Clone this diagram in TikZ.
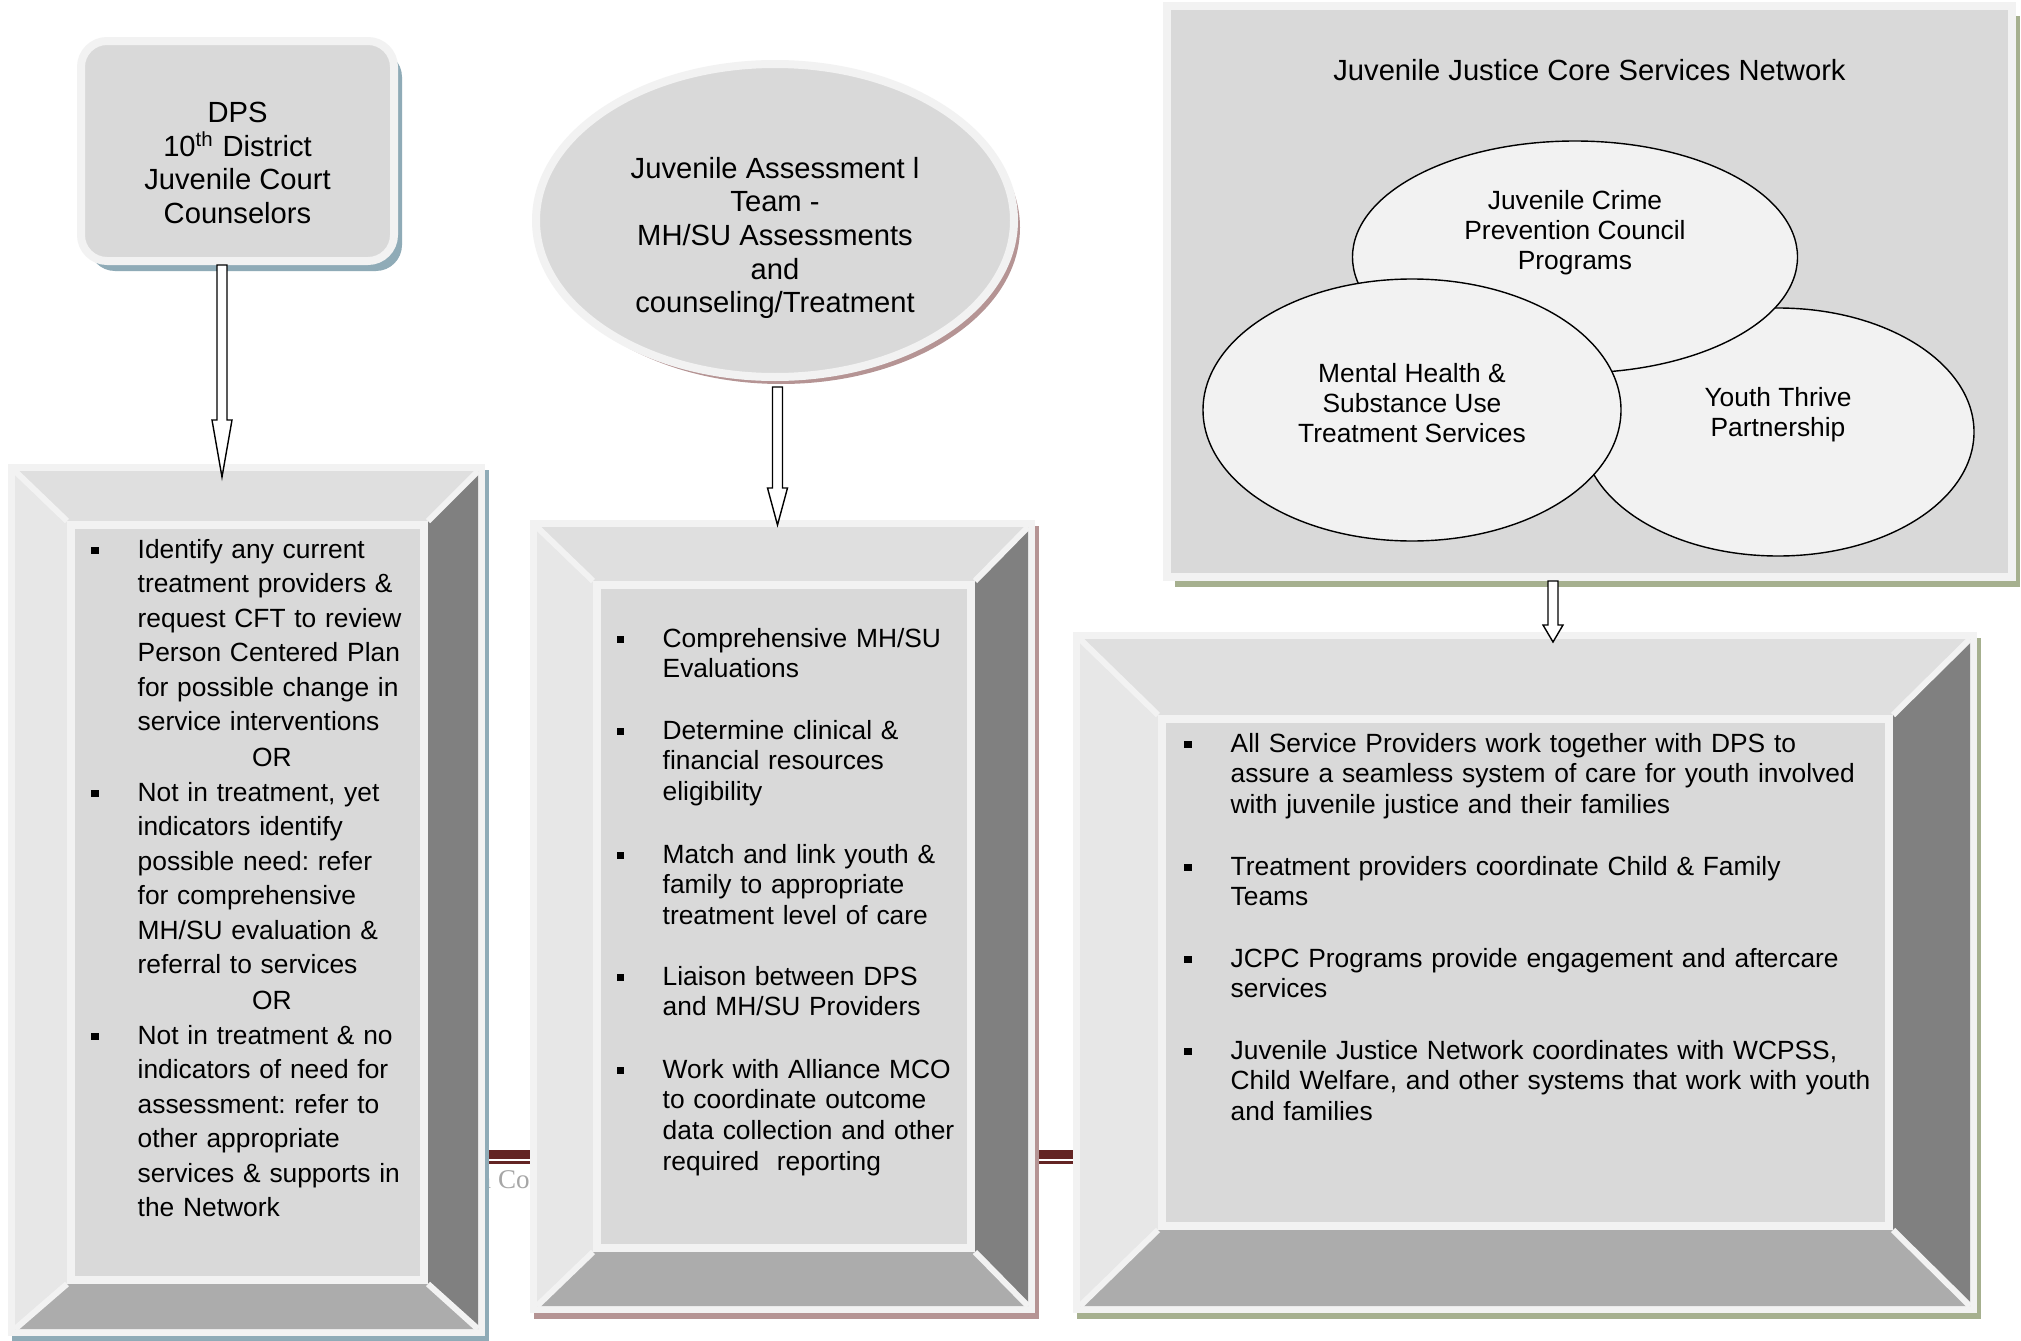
\documentclass[tikz,border=0pt]{standalone}
\usepackage{fontspec}
\setmainfont{Liberation Sans}
\newfontfamily\footserif{Liberation Serif}
\usetikzlibrary{positioning,shapes.geometric,shadows,calc}
\frenchspacing

\definecolor{rim}{HTML}{F2F2F2}
\definecolor{panel}{HTML}{D9D9D9}
\definecolor{bevtop}{HTML}{DFDFDF}
\definecolor{bevleft}{HTML}{E7E7E7}
\definecolor{bevright}{HTML}{808080}
\definecolor{bevbot}{HTML}{ACACAC}
\definecolor{shblue}{HTML}{8FABB7}
\definecolor{shrose}{HTML}{B59494}
\definecolor{sholive}{HTML}{A6B08F}
\definecolor{maroon}{HTML}{632423}
\definecolor{footgray}{HTML}{A6A6A6}

% bevelled panel: frame (#1,#2)-(#3,#4), inner panel (#5,#6)-(#7,#8), shadow colour #9
\newcommand{\bevelframe}[9]{%
  \fill[#9] (#1+4,#2+6) rectangle (#3+4,#4+6);
  \fill[rim] (#1,#2) rectangle (#3,#4);
  \fill[bevtop] (#1+7,#2+7) -- (#3-7,#2+7) -- (#7,#6) -- (#5,#6) -- cycle;
  \fill[bevleft] (#1+7,#2+7) -- (#5,#6) -- (#5,#8) -- (#1+7,#4-7) -- cycle;
  \fill[bevright] (#3-7,#2+7) -- (#3-7,#4-7) -- (#7,#8) -- (#7,#6) -- cycle;
  \fill[bevbot] (#1+7,#4-7) -- (#5,#8) -- (#7,#8) -- (#3-7,#4-7) -- cycle;
  \draw[rim, line width=0.6mm] (#1+7,#2+7) -- (#5,#6) (#3-7,#2+7) -- (#7,#6)
    (#1+7,#4-7) -- (#5,#8) (#3-7,#4-7) -- (#7,#8);
  \draw[rim, fill=panel, line width=0.8mm] (#5+4,#6+4) rectangle (#7-4,#8-4);
}

\begin{document}
\begin{tikzpicture}[
  x=0.1mm, y=-0.1mm,
  hdtext/.style={font=\fontsize{8.3}{9.55}\selectfont, align=center, inner sep=0},
  elltext/.style={font=\fontsize{7.5}{8.5}\selectfont, align=center, inner sep=0},
  rimbox/.style={fill=panel, draw=rim, line width=0.8mm, inner sep=0},
  venn/.style={ellipse, fill=rim, draw=black, line width=0.4pt, inner sep=0},
  itemtext/.style={anchor=base west, align=left, inner sep=0, font=\fontsize{7.5}{8.8}\selectfont},
  bul/.style={fill=black, inner sep=0, minimum size=0.75mm},
  shd/.style={drop shadow={shadow xshift=0.8mm, shadow yshift=-1mm, fill=#1, opacity=1}},
  blockarr/.style={draw=black, fill=white, line width=0.4pt,
    to path={let \p1=(\tikztostart), \p2=(\tikztotarget) in
      (\x1-0.5mm,\y1) -- (\x1-0.5mm,\y2+#1) -- (\x1-1mm,\y2+#1) -- (\x1,\y2)
      -- (\x1+1mm,\y2+#1) -- (\x1+0.5mm,\y2+#1) -- (\x1+0.5mm,\y1) -- cycle}}
]
\fill[white] (0,0) rectangle (2021,1341);
\useasboundingbox (0,0) rectangle (2021,1341);

% page rule and footer behind the panels
\fill[maroon] (480,1150) rectangle (1080,1159);
\fill[maroon] (480,1161) rectangle (1080,1164);
\node[anchor=base west, inner sep=0, text=footgray, font=\footserif\fontsize{7.7}{9}\selectfont] (foot) at (477,1188) {n Cou};

% top row
\node[rimbox, rounded corners=2.6mm, minimum width=31.3mm, minimum height=22mm, shd=shblue] (dps) at (237.5,151) {};
\node[hdtext] (dpstxt) at ([yshift=-1.2mm]dps.center) {DPS\\10\textsuperscript{th} District\\Juvenile Court\\Counselors};

\node[rimbox, ellipse, minimum width=47.8mm, minimum height=31.3mm,
  drop shadow={shadow xshift=0.6mm, shadow yshift=-0.7mm, fill=shrose, opacity=1}] (jat) at (775,220.5) {};
\node[hdtext] (jattxt) at ([yshift=-1.75mm]jat.center) {Juvenile Assessment l\\Team -\\MH/SU Assessments\\and\\counseling/Treatment};

\node[rimbox, minimum width=84.5mm, minimum height=57.1mm, shd=sholive] (jjnet) at (1589.5,291.5) {};
\node[hdtext] (jjtitle) at ([yshift=-6.8mm]jjnet.north) {Juvenile Justice Core Services Network};
\node[venn, minimum width=39.2mm, minimum height=24.8mm] (ytp) at (1778,432) {};
\node[venn, minimum width=44.5mm, minimum height=23.2mm] (jcpc) at (1575,257) {};
\node[venn, minimum width=41.8mm, minimum height=26.2mm] (mhsu) at (1412,410) {};
\node[elltext] (jcpctxt) at ([yshift=2.4mm]jcpc.center) {Juvenile Crime\\Prevention Council\\Programs};
\node[elltext] (mhsutxt) at ([yshift=0.7mm]mhsu.center) {Mental Health \&\\Substance Use\\Treatment Services};
\node[elltext] (ytptxt) at ([yshift=1.7mm]ytp.center) {Youth Thrive\\Partnership};

% bottom row panels
\bevelframe{8}{464}{485}{1336}{67}{521}{428}{1284}{shblue}
\bevelframe{530}{520}{1035}{1313}{593}{581}{975}{1252}{shrose}
\bevelframe{1073}{632}{1977}{1313}{1158}{715}{1893}{1230}{sholive}

% left panel
\node[itemtext, text width=30mm, font=\fontsize{7.5}{9.84}\selectfont] (lit1) at (137,558)
  {Identify any current\\treatment providers \&\\request CFT to review\\Person Centered Plan\\for possible change in\\service interventions};
\node[anchor=base, inner sep=0, font=\fontsize{7.5}{9.84}\selectfont] (lor1) at (272,766) {OR};
\node[itemtext, text width=30mm, font=\fontsize{7.5}{9.84}\selectfont] (lit2) at (137,801)
  {Not in treatment, yet\\indicators identify\\possible need: refer\\for comprehensive\\MH/SU evaluation \&\\referral to services};
\node[anchor=base, inner sep=0, font=\fontsize{7.5}{9.84}\selectfont] (lor2) at (272,1009) {OR};
\node[itemtext, text width=30mm, font=\fontsize{7.5}{9.84}\selectfont] (lit3) at (137,1044)
  {Not in treatment \& no\\indicators of need for\\assessment: refer to\\other appropriate\\services \& supports in\\the Network};
\node[bul] (lb1) at ([xshift=-4.2mm,yshift=0.75mm]lit1.base west) {};
\node[bul] (lb2) at ([xshift=-4.2mm,yshift=0.75mm]lit2.base west) {};
\node[bul] (lb3) at ([xshift=-4.2mm,yshift=0.75mm]lit3.base west) {};

% middle panel
\node[itemtext, text width=36mm] (mit1) at (662,647) {Comprehensive MH/SU\\Evaluations};
\node[itemtext, text width=36mm] (mit2) at (662,739) {Determine clinical \&\\financial resources\\eligibility};
\node[itemtext, text width=36mm] (mit3) at (662,863) {Match and link youth \&\\family to appropriate\\treatment level of care};
\node[itemtext, text width=36mm] (mit4) at (662,985) {Liaison between DPS\\and MH/SU Providers};
\node[itemtext, text width=36mm] (mit5) at (662,1078) {Work with Alliance MCO\\to coordinate outcome\\data collection and other\\required\ \ reporting};
\node[bul] (mb1) at ([xshift=-4.15mm,yshift=0.75mm]mit1.base west) {};
\node[bul] (mb2) at ([xshift=-4.15mm,yshift=0.75mm]mit2.base west) {};
\node[bul] (mb3) at ([xshift=-4.15mm,yshift=0.75mm]mit3.base west) {};
\node[bul] (mb4) at ([xshift=-4.15mm,yshift=0.75mm]mit4.base west) {};
\node[bul] (mb5) at ([xshift=-4.15mm,yshift=0.75mm]mit5.base west) {};

% right panel
\node[itemtext, text width=66mm] (rit1) at (1230,752) {All Service Providers work together with DPS to\\assure a seamless system of care for youth involved\\with juvenile justice and their families};
\node[itemtext, text width=66mm] (rit2) at (1230,875) {Treatment providers coordinate Child \& Family\\Teams};
\node[itemtext, text width=66mm] (rit3) at (1230,967) {JCPC Programs provide engagement and aftercare\\services};
\node[itemtext, text width=66mm] (rit4) at (1230,1059) {Juvenile Justice Network coordinates with WCPSS,\\Child Welfare, and other systems that work with youth\\and families};
\node[bul] (rb1) at ([xshift=-4.2mm,yshift=0.75mm]rit1.base west) {};
\node[bul] (rb2) at ([xshift=-4.2mm,yshift=0.75mm]rit2.base west) {};
\node[bul] (rb3) at ([xshift=-4.2mm,yshift=0.75mm]rit3.base west) {};
\node[bul] (rb4) at ([xshift=-4.2mm,yshift=0.75mm]rit4.base west) {};

% block arrows
\coordinate (a1s) at ([xshift=-1.55mm]dps.south);
\coordinate (a1e) at (222,477);
\coordinate (a2s) at (777.5,387);
\coordinate (a2e) at (777.5,525);
\coordinate (a3s) at ([xshift=-3.65mm]jjnet.south);
\coordinate (a3e) at (1553,642);
\draw[blockarr=5.7mm] (a1s) to (a1e);
\draw[blockarr=3.7mm] (a2s) to (a2e);
\draw[blockarr=1.7mm] (a3s) to (a3e);
\end{tikzpicture}
\end{document}
